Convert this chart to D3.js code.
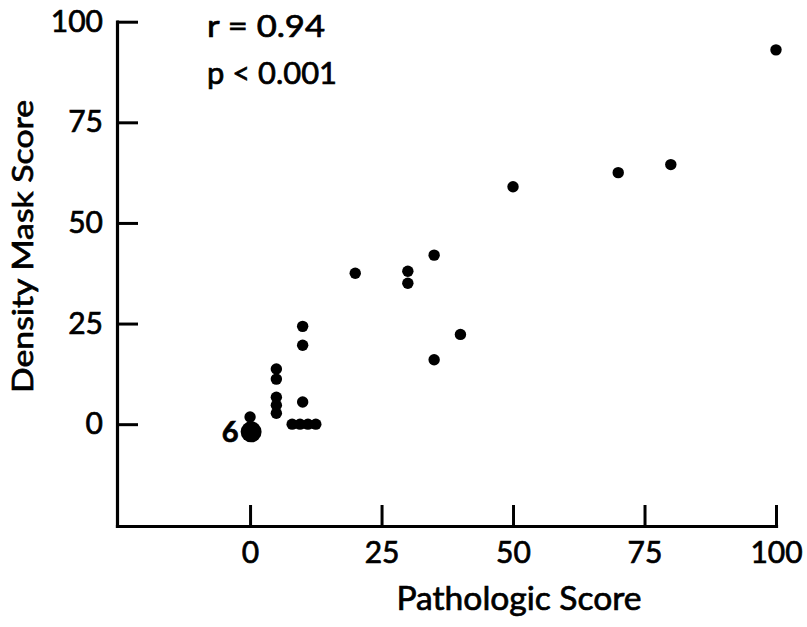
<!DOCTYPE html>
<html>
<head>
<meta charset="utf-8">
<script src="https://cdn.jsdelivr.net/npm/d3@7"></script>
<style>
  html, body { margin: 0; padding: 0; background: #fff; }
  svg { display: block; }
  text { font-family: Lato, "Noto Sans", sans-serif; fill: #000; stroke: #000; stroke-width: 0.7px; }
</style>
</head>
<body>
<script>
// ---- data ----
const pathologicScore = [100, 80, 70, 50, 40, 35, 35, 30, 30, 20, 10, 10, 10, 8, 9.5, 11, 12.5, 5, 5, 5, 5, 5, 0, 0.2];
const densityMaskScore = [93, 64.5, 62.5, 59, 22.3, 42, 16, 38, 35, 37.5, 24.3, 19.6, 5.5, 0, 0, 0, 0, 13.7, 11.2, 6.7, 4.7, 2.7, 1.8, -1.9];
const pointCount = [1, 1, 1, 1, 1, 1, 1, 1, 1, 1, 1, 1, 1, 1, 1, 1, 1, 1, 1, 1, 1, 1, 1, 6];
const xTicks = [0, 25, 50, 75, 100];
const yTicks = [0, 25, 50, 75, 100];
const xTitle = "Pathologic Score";
const yTitle = "Density Mask Score";
const statLines = ["r = 0.94", "p < 0.001"];
const statWidths = [118, 130];

const W = 807, H = 627;
const svg = d3.select("body").append("svg").attr("width", W).attr("height", H);

const x = d3.scaleLinear().domain([-25.3, 100]).range([117, 776]);
const y = d3.scaleLinear().domain([-25.3, 100]).range([526, 21.7]);
const r = d3.scaleLinear().domain([1, 6]).range([5.7, 10.5]);

// axes
const xAxis = d3.axisBottom(x).tickValues(xTicks).tickFormat(d3.format("d"))
  .tickSizeInner(-21).tickSizeOuter(0).tickPadding(14);
const yAxis = d3.axisLeft(y).tickValues(yTicks).tickFormat(d3.format("d"))
  .tickSizeInner(-21).tickSizeOuter(0).tickPadding(14);

const gx = svg.append("g").attr("transform", `translate(0,${y.range()[0]})`).call(xAxis);
const gy = svg.append("g").attr("transform", `translate(${x.range()[0]},0)`).call(yAxis);

[gx, gy].forEach(g => {
  g.select(".domain").attr("stroke", "#000").attr("stroke-width", 3.2).attr("stroke-linecap", "square");
  g.selectAll(".tick line").attr("stroke", "#000").attr("stroke-width", 3);
  g.selectAll(".tick text").attr("font-size", 30).attr("fill", "#000")
    .style("font-family", "Lato, 'Noto Sans', sans-serif");
});
gx.selectAll(".tick text").attr("dy", "0.75em");

// points
const pts = pathologicScore.map((d, i) => ({ px: d, py: densityMaskScore[i], n: pointCount[i] }));
svg.append("g").selectAll("circle").data(pts).join("circle")
  .attr("cx", d => x(d.px))
  .attr("cy", d => y(d.py))
  .attr("r", d => r(d.n))
  .attr("fill", "#000");

// count label for stacked point
pts.filter(d => d.n > 1).forEach(d => {
  svg.append("text")
    .attr("x", x(d.px) - r(d.n) - 2)
    .attr("y", y(d.py) + 10)
    .attr("text-anchor", "end")
    .attr("font-size", 29)
    .attr("font-weight", "bold")
    .text(d.n);
});

// stats
svg.append("g").selectAll("text").data(statLines).join("text")
  .attr("x", 207)
  .attr("y", (d, i) => 37 + i * 46.5)
  .attr("font-size", 30)
  .attr("textLength", (d, i) => statWidths[i]).attr("lengthAdjust", "spacingAndGlyphs")
  .text(d => d);

// titles
svg.append("text")
  .attr("x", 519).attr("y", 610)
  .attr("text-anchor", "middle")
  .attr("font-size", 33)
  .attr("textLength", 245).attr("lengthAdjust", "spacingAndGlyphs")
  .text(xTitle);

svg.append("text")
  .attr("transform", "translate(33,246.5) rotate(-90)")
  .attr("text-anchor", "middle")
  .attr("font-size", 29)
  .attr("textLength", 293).attr("lengthAdjust", "spacingAndGlyphs")
  .text(yTitle);
</script>
</body>
</html>
